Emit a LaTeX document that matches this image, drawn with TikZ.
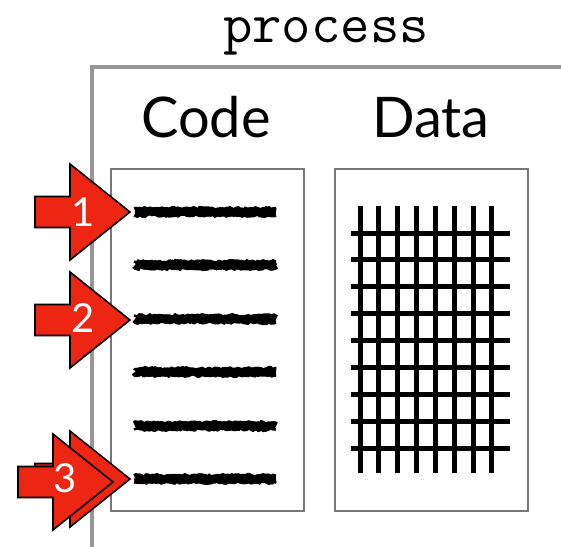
\documentclass[tikz,border=0pt]{standalone}
\usepackage{fontspec}
\newfontfamily\labelfont{Lato}
\usetikzlibrary{decorations.pathmorphing}
\definecolor{arrowred}{RGB}{236,38,18}
\definecolor{boxgray}{RGB}{150,150,150}
\definecolor{panelgray}{RGB}{118,118,118}

\begin{document}
\begin{tikzpicture}[x=1pt,y=-1pt,
  panel/.style={draw=panelgray,line width=2pt,fill=white,minimum width=193pt,minimum height=342pt,anchor=north west,inner sep=0pt},
  scribble/.style={line width=8pt,line join=round,decorate,decoration={random steps,segment length=2pt,amplitude=1.4pt}},
  gridline/.style={line width=5pt},
  pointer/.style={draw=black,line width=1.6pt,fill=arrowred,line join=miter},
  pointerlabel/.style={text=white,anchor=base,inner sep=0pt,font=\labelfont\fontsize{40}{40}\selectfont},
  heading/.style={anchor=base,inner sep=0pt,font=\labelfont\fontsize{56}{56}\selectfont}]
\useasboundingbox (0,0) rectangle (561,546);
\pgfmathsetseed{11}
\pgfmathsetmacro{\headw}{60}
\pgfmathsetmacro{\headh}{48}
\pgfmathsetmacro{\tailw}{35}
\pgfmathsetmacro{\tailh}{15.5}

% the process
\node[anchor=base,inner sep=0pt,font=\ttfamily\fontsize{57}{57}\selectfont] (title) at (326,42) {process};
\draw[boxgray,line width=4pt] (92,550) -- (92,67) -- (565,67);

% code and data
\node[panel] (code) at (110,168) {};
\node[panel] (data) at (334,168) {};
\node[heading] (codehead) at (206,137) {Code};
\node[heading] (datahead) at (431,137) {Data};

\foreach \sy in {212,265,319,372,426,479} {
  \draw[scribble] (135,\sy) -- (276,\sy);
  \draw[scribble,line width=2.5pt] (134,\sy-3.5) -- (276,\sy-3.5);
  \draw[scribble,line width=2.5pt] (134,\sy+3.5) -- (276,\sy+3.5);
}

\foreach \gx in {0,...,7}
  \draw[gridline] (360+\gx*18.85,206) -- ++(0,267);
\foreach \gy in {0,...,8}
  \draw[gridline] (351,233+\gy*26.9) -- ++(159,0);

% pointers
\foreach \tx/\ty in {130/212,130/320,130/479,113/482}
  \draw[pointer] (\tx,\ty) -- ++(-\headw,-\headh) -- ++(0,\headh-\tailh) -- ++(-\tailw,0)
    -- ++(0,2*\tailh) -- ++(\tailw,0) -- ++(0,\headh-\tailh) -- cycle;
\node[pointerlabel] (one) at (83,226) {1};
\node[pointerlabel] (two) at (83,332) {2};
\node[pointerlabel] (three) at (65,492) {3};
\end{tikzpicture}
\end{document}
